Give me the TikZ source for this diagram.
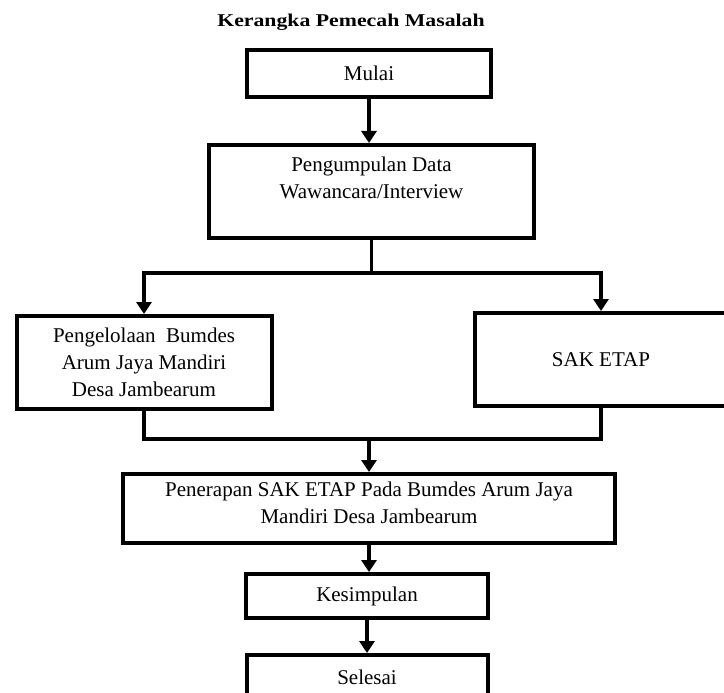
\documentclass[tikz,border=0pt]{standalone}
\usepackage{fontspec}
\setmainfont{Liberation Serif}
\usetikzlibrary{arrows.meta}
\begin{document}
\begin{tikzpicture}[x=1pt,y=-1pt,
  box/.style={draw=black,line width=4pt,rectangle,align=center,inner sep=0pt,
    font=\fontsize{21}{27}\selectfont},
  conn/.style={line width=3.6pt,line join=miter},
  arr/.style={conn,-{Triangle[width=15pt,length=12pt]}}]
\clip (0,0) rectangle (724,693);
\fill[white] (0,0) rectangle (724,693);
\node[anchor=base,font=\fontsize{18}{22}\selectfont\bfseries] (title) at (351,27) {\scalebox{1.21}[1]{Kerangka Pemecah Masalah}};
\node[box,minimum width=244pt,minimum height=47pt] (mulai) at (369,73.5) {Mulai};
\node[box,minimum width=325pt,minimum height=93pt,text depth=28pt] (peng) at (371.5,191.5) {Pengumpulan Data\\Wawancara/Interview};
\node[box,minimum width=255pt,minimum height=93pt] (left) at (144,362.5) {Pengelolaan~ Bumdes\\Arum Jaya Mandiri\\Desa Jambearum};
\node[box,minimum width=252pt,minimum height=93pt] (right) at (601,359.5) {SAK ETAP};
\node[box,minimum width=492pt,minimum height=69pt,text depth=12pt] (pen) at (369,508.5) {Penerapan SAK ETAP Pada Bumdes Arum Jaya\\Mandiri Desa Jambearum};
\node[box,minimum width=242pt,minimum height=44pt] (kes) at (367,596) {Kesimpulan};
\node[box,minimum width=241pt,minimum height=44pt] (sel) at (367,677) {Selesai};
\coordinate (split) at (371.5,273);
\coordinate (merge) at (369,439);
\draw[arr] (mulai.south) -- (mulai.south |- peng.north);
\draw[conn] (peng.south) -- (peng.south |- split);
\draw[arr] (split) -| (left.north);
\draw[arr] (split) -| (right.north);
\draw[conn] (left.south) -- (left.south |- merge) -- (right.south |- merge) -- (right.south);
\draw[arr] (merge) -- (pen.north);
\draw[arr] (pen.south) -- (pen.south |- kes.north);
\draw[arr] (kes.south) -- (sel.north);
\end{tikzpicture}
\end{document}
